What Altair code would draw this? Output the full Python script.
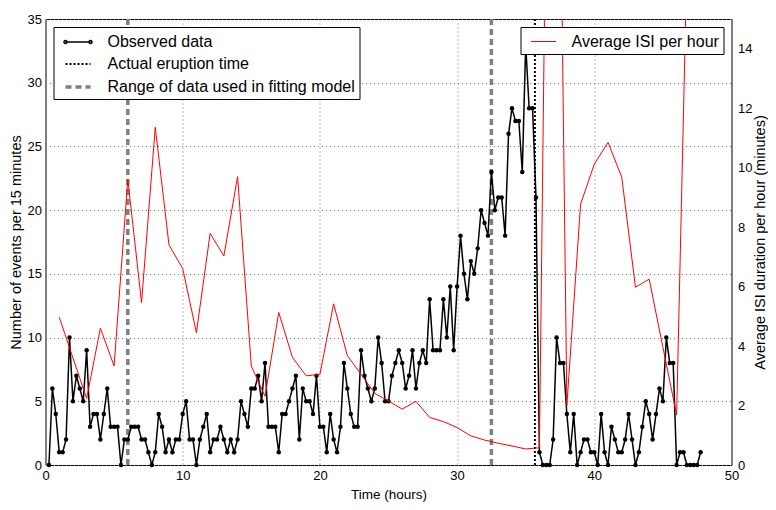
import altair as alt
import pandas as pd

# ---- data ----
obs_start = 0.25
obs_step = 0.25
obs_counts = [
    0, 6, 4, 1, 1, 2, 10, 5, 7, 6, 5, 9, 3, 4, 4, 2, 4, 6, 3, 3, 3, 0, 2, 2, 3, 3, 3, 2, 2, 1,
    0, 1, 4, 3, 1, 2, 1, 2, 2, 4, 5, 2, 2, 0, 2, 3, 4, 1, 2, 2, 3, 2, 1, 2, 1, 2, 5, 4, 3, 6,
    6, 7, 5, 8, 3, 3, 3, 1, 4, 4, 5,
    6, 7, 2, 6, 5, 5, 4, 7, 3, 3, 1, 4, 2, 1, 3, 8, 6, 4, 3, 3, 9, 7, 6, 5, 6, 10, 8, 5, 5, 7,
    8, 9, 8, 6, 7, 9, 6, 8, 9, 8,
    13, 9, 9, 9, 13, 10, 14, 9, 14, 18, 15, 13, 16, 15, 17, 20, 19, 18, 23, 20, 21, 21, 18, 26,
    28, 27, 27, 23, 33, 28, 28, 21,
    1, 0, 0, 0, 2, 10, 8, 8, 4, 1, 4, 0, 1, 2, 2, 1, 1, 0, 4, 1, 0, 3, 2, 1, 1, 2, 4, 2, 0, 1,
    3, 5, 4, 2, 4, 6, 5, 10, 8, 8, 0, 1, 1, 0, 0, 0, 0, 1,
]
isi_hours = list(range(1, 48))
isi_values = [
    4.97, 3.6, 2.24, 4.6, 3.33, 9.61, 5.46, 11.36, 7.40, 6.61,
    4.45, 7.79, 7.03, 9.70, 3.33, 2.31, 5.13, 3.62, 3.00, 3.05,
    5.42, 3.68, 3.05, 2.41, 2.15, 1.88, 2.14, 1.60, 1.46, 1.26,
    0.98, 0.84, 0.73, 0.64, 0.54, 0.58, 40.0, 2.0, 8.77, 10.12,
    10.85, 9.68, 5.98, 6.25, 3.96, 1.68, 22.0,
]
range_lines = [6.0, 32.5]
eruption_time = [35.67]

kinds = ["Observed data", "Actual eruption time", "Range of data used in fitting model"]
kind_colors = ["black", "black", "gray"]
kind_dashes = [[1, 0], [2, 2], [6, 4]]
kind_widths = [1.5, 2, 3.5]
isi_label = "Average ISI per hour"

x_ticks = [0, 10, 20, 30, 40, 50]
left_ticks = [0, 5, 10, 15, 20, 25, 30, 35]
right_ticks = [0, 2, 4, 6, 8, 10, 12, 14]

obs_df = pd.DataFrame({
    "hour": [obs_start + i * obs_step for i in range(len(obs_counts))],
    "count": obs_counts,
    "kind": kinds[0],
})
isi_df = pd.DataFrame({"hour": isi_hours, "isi": isi_values, "kind": isi_label})
range_df = pd.DataFrame({"hour": range_lines, "kind": kinds[2]})
erupt_df = pd.DataFrame({"hour": eruption_time, "kind": kinds[1]})

FONT = "Liberation Sans"

line_path = "M-0.4,0H2.1"
obs_path = ("M-0.4,0H2.1"
            "M-0.55,0A0.15,0.15,0,1,1,-0.25,0A0.15,0.15,0,1,1,-0.55,0"
            "M1.95,0A0.15,0.15,0,1,1,2.25,0A0.15,0.15,0,1,1,1.95,0")

leg1 = alt.Legend(
    title=None, orient="top-left", offset=8, padding=4, rowPadding=3,
    symbolSize=400, labelOffset=26, labelFont=FONT, labelFontSize=16, labelLimit=500,
    labelColor="black", strokeColor="black", fillColor="white", cornerRadius=0,
    symbolOpacity=1,
)
leg2 = alt.Legend(
    title=None, orient="top-right", offset=8, padding=4,
    symbolSize=400, symbolType=line_path, symbolStrokeWidth=1,
    labelOffset=26, labelFont=FONT, labelFontSize=16, labelLimit=500, labelColor="black",
    strokeColor="black", fillColor="white", cornerRadius=0,
)

color_enc = alt.Color("kind:N", scale=alt.Scale(domain=kinds, range=kind_colors), legend=leg1)
dash_enc = alt.StrokeDash("kind:N", scale=alt.Scale(domain=kinds, range=kind_dashes), legend=leg1)
width_enc = alt.StrokeWidth("kind:N", scale=alt.Scale(type="ordinal", domain=kinds, range=kind_widths),
                            legend=leg1)
shape_enc = alt.Shape("kind:N", scale=alt.Scale(domain=kinds, range=[obs_path, line_path, line_path]),
                      legend=leg1)

x_enc = alt.X(
    "hour:Q",
    scale=alt.Scale(domain=[0, 50], nice=False),
    axis=alt.Axis(values=x_ticks, title="Time (hours)", grid=True, gridDash=[1, 3],
                  gridColor="#777777", ticks=False, domain=False, labelPadding=4,
                  labelFlush=False, titlePadding=5, titleFontSize=13.5),
)
y_left = alt.Y(
    "count:Q",
    scale=alt.Scale(domain=[0, 35], nice=False),
    axis=alt.Axis(values=left_ticks, orient="left", title="Number of events per 15 minutes",
                  grid=True, gridDash=[1, 3], gridColor="#777777", ticks=False, domain=False,
                  labelPadding=4, labelFlush=False, titlePadding=4, titleFontSize=14.5),
)

range_rules = alt.Chart(range_df).mark_rule().encode(
    x=x_enc, color=color_enc, strokeDash=dash_enc, strokeWidth=width_enc)
erupt_rule = alt.Chart(erupt_df).mark_rule().encode(
    x=alt.X("hour:Q"), color=color_enc, strokeDash=dash_enc, strokeWidth=width_enc)
obs_line = alt.Chart(obs_df).mark_line().encode(
    x=alt.X("hour:Q"), y=y_left, color=color_enc, strokeDash=dash_enc, strokeWidth=width_enc)
obs_points = alt.Chart(obs_df).mark_circle(size=20, color="black", opacity=1).encode(
    x=alt.X("hour:Q"),
    y=alt.Y("count:Q", scale=alt.Scale(domain=[0, 35], nice=False), axis=None),
)
legend_shapes = alt.Chart(obs_df).mark_point(filled=False).encode(
    shape=shape_enc).transform_filter("datum.count < 0")
isi_line = alt.Chart(isi_df).mark_line(strokeWidth=1, clip=True).encode(
    x=alt.X("hour:Q"),
    y=alt.Y("isi:Q", scale=alt.Scale(domain=[0, 15], nice=False),
            axis=alt.Axis(values=right_ticks, orient="right",
                          title="Average ISI duration per hour (minutes)", titleAngle=270,
                          grid=False, ticks=False, domain=False, labelPadding=6,
                          labelFlush=False, titlePadding=16, titleFontSize=14.5)),
    stroke=alt.Stroke("kind:N", scale=alt.Scale(domain=[isi_label], range=["red"]), legend=leg2),
)

chart = (
    alt.layer(range_rules, erupt_rule, obs_line, obs_points, legend_shapes, isi_line)
    .resolve_scale(y="independent")
    .properties(
        width=686, height=446,
        autosize=alt.AutoSizeParams(type="none"),
        padding={"left": 37.5, "top": 11, "right": 36.5, "bottom": 37},
        background="white",
    )
    .configure_view(stroke="black", strokeWidth=1)
    .configure_axis(labelFont=FONT, titleFont=FONT, labelFontSize=13, titleFontSize=13,
                    titleFontWeight="normal", labelColor="black", titleColor="black")
)

chart.save("out.html", embed_options={"renderer": "svg", "actions": False})
